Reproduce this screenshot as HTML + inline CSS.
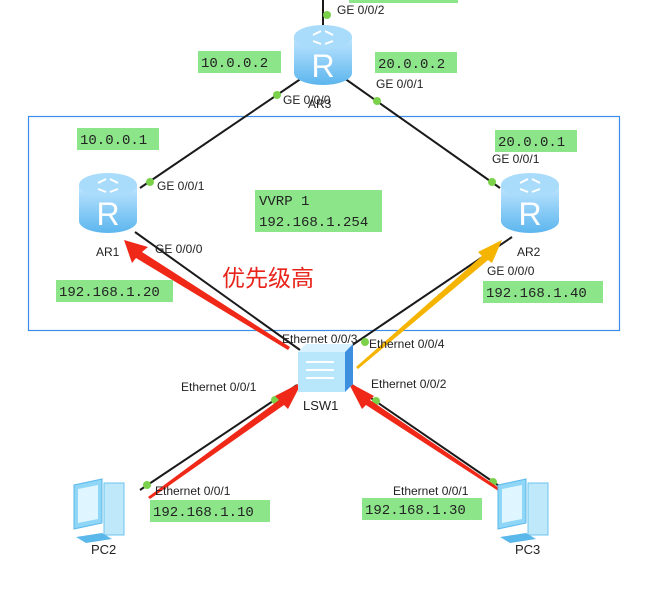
<!DOCTYPE html>
<html><head><meta charset="utf-8"><style>
html,body{margin:0;padding:0;background:#fff;}
svg{display:block;}
.l{font-family:"Liberation Sans",sans-serif;font-size:12px;fill:#222;}
.m{font-family:"Liberation Mono",monospace;font-size:14px;fill:#222;}
</style></head><body>
<svg width="646" height="596" viewBox="0 0 646 596" xmlns="http://www.w3.org/2000/svg">
<defs>
<linearGradient id="rg" x1="0" x2="0" y1="0" y2="1"><stop offset="0" stop-color="#bfe6ff"/><stop offset="1" stop-color="#5cb6ee"/></linearGradient>
<g id="router">
<path d="M-29,-20 v36 a29,12 0 0 0 58,0 v-36 z" fill="url(#rg)"/>
<ellipse cx="0" cy="-20" rx="29" ry="12" fill="#a9dcfa"/>
<path d="M-10,-22 l8,-4 M10,-22 l-8,-4 M-10,-16 l8,3 M10,-16 l-8,3" stroke="#fff" stroke-width="2"/>
<text x="0" y="20" text-anchor="middle" font-family="Liberation Sans,sans-serif" font-size="32" fill="#fff">R</text>
</g>
<g id="pc">
<path d="M-24,-30 l28,-6 v44 l-28,6 z" fill="#8fd6f7" stroke="#5ab8ea"/>
<path d="M-20,-26 l20,-4 v34 l-20,4 z" fill="#dff5ff"/>
<path d="M6,-32 h20 v52 h-20 z" fill="#bfe8fb" stroke="#6cc3ef"/>
<path d="M-22,22 l26,-4 l10,6 l-26,4 z" fill="#5ab8ea"/>
</g>
</defs>
<rect x="28.5" y="116.5" width="591" height="214" fill="none" stroke="#3a8ee6" stroke-width="1.2"/>
<g stroke="#1a1a1a" stroke-width="2">
<line x1="323" y1="0" x2="323" y2="33"/>
<line x1="302" y1="78" x2="140" y2="188"/>
<line x1="344" y1="78" x2="500" y2="188"/>
<line x1="135" y1="232" x2="300" y2="350"/>
<line x1="512" y1="237" x2="345" y2="350"/>
<line x1="297" y1="385" x2="140" y2="490"/>
<line x1="352" y1="385" x2="505" y2="490"/>
</g>
<g fill="#7bd24a">
<circle cx="327" cy="15" r="4"/><circle cx="277" cy="95" r="4"/><circle cx="377" cy="101" r="4"/>
<circle cx="150" cy="182" r="4"/><circle cx="492" cy="182" r="4"/><circle cx="490" cy="251" r="4"/>
<circle cx="275" cy="400" r="4"/><circle cx="376" cy="401" r="4"/><circle cx="147" cy="485" r="4"/><circle cx="493" cy="482" r="4"/>
<circle cx="365" cy="342" r="4"/>
</g>
<polygon points="288,350 136,258 132,263 124,240 148,247 142,252 290,347" fill="#f02818"/>
<polygon points="356,367 482,256 478,252 502,240 492,263 488,260 358,369" fill="#f5b400"/>
<polygon points="148,497 279,400 275,396 302,382 288,409 284,405 150,499" fill="#f02818"/>
<polygon points="500,492 366,405 362,409 348,382 374,396 370,400 502,490" fill="#f02818"/>
<use href="#router" x="323" y="57"/>
<use href="#router" x="108" y="205"/>
<use href="#router" x="530" y="205"/>
<g>
<path d="M298,352 h47 l8,-8 v40 l-8,8 h-47 z" fill="#b8e6fb"/>
<path d="M345,352 l8,-8 v40 l-8,8 z" fill="#3d8fe0"/>
<path d="M298,352 l8,-8 h47 l-8,8 z" fill="#d8f2ff"/>
<path d="M306,362 h28 M306,370 h28 M306,378 h28" stroke="#fff" stroke-width="2"/>
</g>
<use href="#pc" x="98" y="515"/>
<use href="#pc" x="522" y="515"/>
<g fill="#8de58a">
<rect x="349" y="0" width="109" height="3"/>
<rect x="198" y="51" width="83" height="22"/><rect x="375" y="52" width="82" height="21"/>
<rect x="77" y="128" width="82" height="22"/><rect x="495" y="130" width="82" height="22"/>
<rect x="255" y="190" width="127" height="42"/>
<rect x="56" y="280" width="117" height="22"/><rect x="483" y="281" width="120" height="22"/>
<rect x="150" y="500" width="120" height="22"/><rect x="362" y="498" width="120" height="22"/>
</g>
<g class="m">
<text x="201" y="67">10.0.0.2</text><text x="378" y="68">20.0.0.2</text>
<text x="80" y="144">10.0.0.1</text><text x="498" y="146">20.0.0.1</text>
<text x="259" y="205">VVRP 1</text><text x="259" y="226">192.168.1.254</text>
<text x="59" y="296">192.168.1.20</text><text x="486" y="297">192.168.1.40</text>
<text x="153" y="516">192.168.1.10</text><text x="365" y="514">192.168.1.30</text>
</g>
<g class="l">
<text x="337" y="14">GE 0/0/2</text>
<text x="376" y="88">GE 0/0/1</text>
<text x="283" y="104">GE 0/0/0</text><text x="308" y="108">AR3</text>
<text x="157" y="190">GE 0/0/1</text><text x="155" y="253">GE 0/0/0</text>
<text x="96" y="256">AR1</text>
<text x="492" y="163">GE 0/0/1</text>
<text x="517" y="256">AR2</text><text x="487" y="275">GE 0/0/0</text>
<text x="282" y="343">Ethernet 0/0/3</text><text x="369" y="348">Ethernet 0/0/4</text>
<text x="181" y="391">Ethernet 0/0/1</text><text x="371" y="388">Ethernet 0/0/2</text>
<text x="303" y="410" font-size="13">LSW1</text>
<text x="155" y="495">Ethernet 0/0/1</text><text x="393" y="495">Ethernet 0/0/1</text>
<text x="91" y="554" font-size="13">PC2</text><text x="515" y="554" font-size="13">PC3</text>
</g>
<text x="222" y="286" font-family="Liberation Sans,'Noto Sans CJK SC',sans-serif" font-size="23" fill="#e8231a">优先级高</text>
</svg>
</body></html>
